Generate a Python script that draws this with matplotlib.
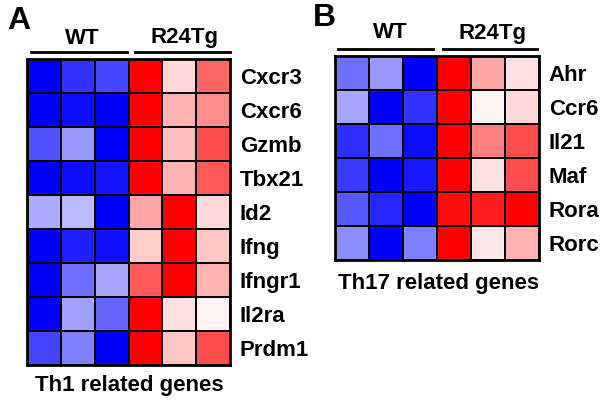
import numpy as np
import matplotlib
matplotlib.use("Agg")
import matplotlib.pyplot as plt
from matplotlib.colors import LinearSegmentedColormap
from matplotlib.lines import Line2D

plt.rcParams['font.family'] = ['Liberation Sans', 'DejaVu Sans']
plt.rcParams['font.weight'] = 'bold'

groups = ["WT", "R24Tg"]
genes_a = ["Cxcr3", "Cxcr6", "Gzmb", "Tbx21", "Id2", "Ifng", "Ifngr1", "Il2ra", "Prdm1"]
values_a = [
    [-1.00, -0.80, -0.72, 1.00, 0.15, 0.60],
    [-1.00, -0.95, -1.00, 1.00, 0.30, 0.45],
    [-0.68, -0.40, -1.00, 1.00, 0.25, 0.70],
    [-1.00, -0.95, -0.92, 1.00, 0.30, 0.65],
    [-0.33, -0.27, -1.00, 0.35, 1.00, 0.15],
    [-1.00, -0.88, -0.93, 0.20, 1.00, 0.22],
    [-1.00, -0.57, -0.35, 0.65, 1.00, 0.30],
    [-1.00, -0.37, -0.60, 1.00, 0.12, 0.05],
    [-0.73, -0.50, -1.00, 1.00, 0.22, 0.70],
]
genes_b = ["Ahr", "Ccr6", "Il21", "Maf", "Rora", "Rorc"]
values_b = [
    [-0.57, -0.40, -1.00, 1.00, 0.35, 0.12],
    [-0.35, -1.00, -0.80, 1.00, 0.05, 0.15],
    [-0.82, -0.57, -0.95, 1.00, 0.50, 0.70],
    [-0.77, -1.00, -0.90, 1.00, 0.12, 0.70],
    [-0.65, -0.85, -1.00, 0.95, 0.88, 1.00],
    [-0.45, -1.00, -0.50, 1.00, 0.10, 0.30],
]
titles = ["Th1 related genes", "Th17 related genes"]
panel_letters = ["A", "B"]

W, H = 604, 403
fig = plt.figure(figsize=(W / 100, H / 100), dpi=100)
cmap = LinearSegmentedColormap.from_list("bwr2", ["#0000ff", "#ffffff", "#ff0000"])
FS = 16

def fx(px):
    return px / W

def fy(py):
    return 1 - py / H

def panel(vals, genes, box, letter, letter_xy, title, title_xy,
          wt_line, tg_line, line_y, wt_xy, tg_xy):
    x0, y0, x1, y1 = box
    ax = fig.add_axes([fx(x0), fy(y1), fx(x1) - fx(x0), fy(y0) - fy(y1)])
    arr = np.array(vals)
    ax.pcolormesh(arr, cmap=cmap, vmin=-1, vmax=1, edgecolors='black', linewidth=1.3)
    ax.set_xlim(0, arr.shape[1])
    ax.set_ylim(arr.shape[0], 0)
    ax.yaxis.tick_right()
    ax.set_yticks(np.arange(len(genes)) + 0.5)
    ax.set_yticklabels(genes, fontsize=FS, fontweight='bold')
    ax.tick_params(axis='y', length=0, pad=7)
    ax.set_xticks([])
    for s in ax.spines.values():
        s.set_linewidth(2)
    fig.text(fx(letter_xy[0]), fy(letter_xy[1]), letter, fontsize=23, fontweight='bold',
             ha='center', va='center')
    fig.text(fx(title_xy[0]), fy(title_xy[1]), title, fontsize=FS, fontweight='bold',
             ha='center', va='center')
    for (a, b) in (wt_line, tg_line):
        fig.add_artist(Line2D([fx(a), fx(b)], [fy(line_y), fy(line_y)], color='black', linewidth=2))
    fig.text(fx(wt_xy[0]), fy(wt_xy[1]), groups[0], fontsize=FS, fontweight='bold',
             ha='center', va='center')
    fig.text(fx(tg_xy[0]), fy(tg_xy[1]), groups[1], fontsize=FS, fontweight='bold',
             ha='center', va='center')

panel(values_a, genes_a, (27, 59, 230, 365), panel_letters[0], (19, 21), titles[0], (129, 385),
      (31, 127), (135, 230), 52, (82, 38), (184, 38))
panel(values_b, genes_b, (335, 56, 539, 260), panel_letters[1], (324, 18), titles[1], (439, 283),
      (338, 433), (443, 537), 49, (390, 33), (492, 33))

fig.savefig("out.png", dpi=100)
